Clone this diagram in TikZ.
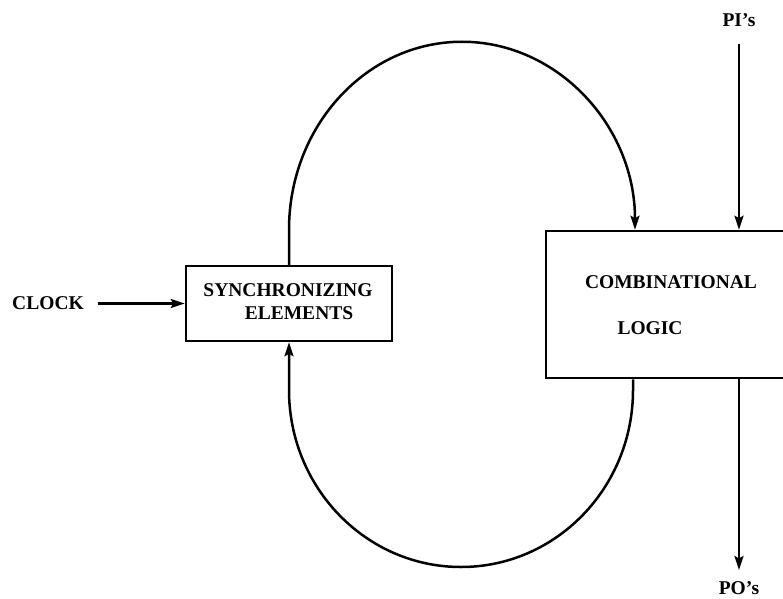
\documentclass[tikz,border=0pt]{standalone}
\usepackage{fontspec}
\setmainfont{Liberation Serif}
\usetikzlibrary{arrows.meta}
\begin{document}
\begin{tikzpicture}[x=1pt,y=1pt,
  lbl/.style={font=\fontsize{19.5}{22}\selectfont\bfseries, inner sep=0pt},
  boxed/.style={draw, line width=2.5pt, inner sep=0pt},
  wire/.style={line width=2.5pt},
  arr/.style={wire, -{Stealth[length=14pt,width=9pt,inset=2.5pt]}}]
\useasboundingbox (0,0) rectangle (783,598);
\clip (0,0) rectangle (783,598);
% boxes
\node[boxed, minimum width=206pt, minimum height=75pt] (sync) at (289,294.5) {};
\node[boxed, minimum width=254pt, minimum height=147pt] (comb) at (673,293.5) {};
% texts
\node[lbl] (syn1) at (288,308) {SYNCHRONIZING};
\node[lbl] (syn2) at (299,285) {ELEMENTS};
\node[lbl] (com1) at (671,316) {COMBINATIONAL};
\node[lbl] (com2) at (650,270) {LOGIC};
\node[lbl] (clock) at (48,294.5) {CLOCK};
\node[lbl] (pi) at (739,578) {PI’s};
\node[lbl] (po) at (739,10) {PO’s};
% coordinates
\coordinate (lx) at (633,0);
\coordinate (ix) at (739,0);
% connectors
\draw[arr] ([xshift=14pt]clock.east) -- (sync.west);
\draw[arr] (ix |- 0,554) -- (ix |- comb.north);
\draw[arr] (ix |- comb.south) -- (ix |- 0,28);
\draw[arr] (sync.north) -- (sync.north |- comb.north) arc[start angle=180, end angle=0, x radius=173, y radius=188];
\draw[arr] (lx |- comb.south) -- (633,208) arc[start angle=0, end angle=-180, x radius=172, y radius=177] -- (sync.south);
\end{tikzpicture}
\end{document}
